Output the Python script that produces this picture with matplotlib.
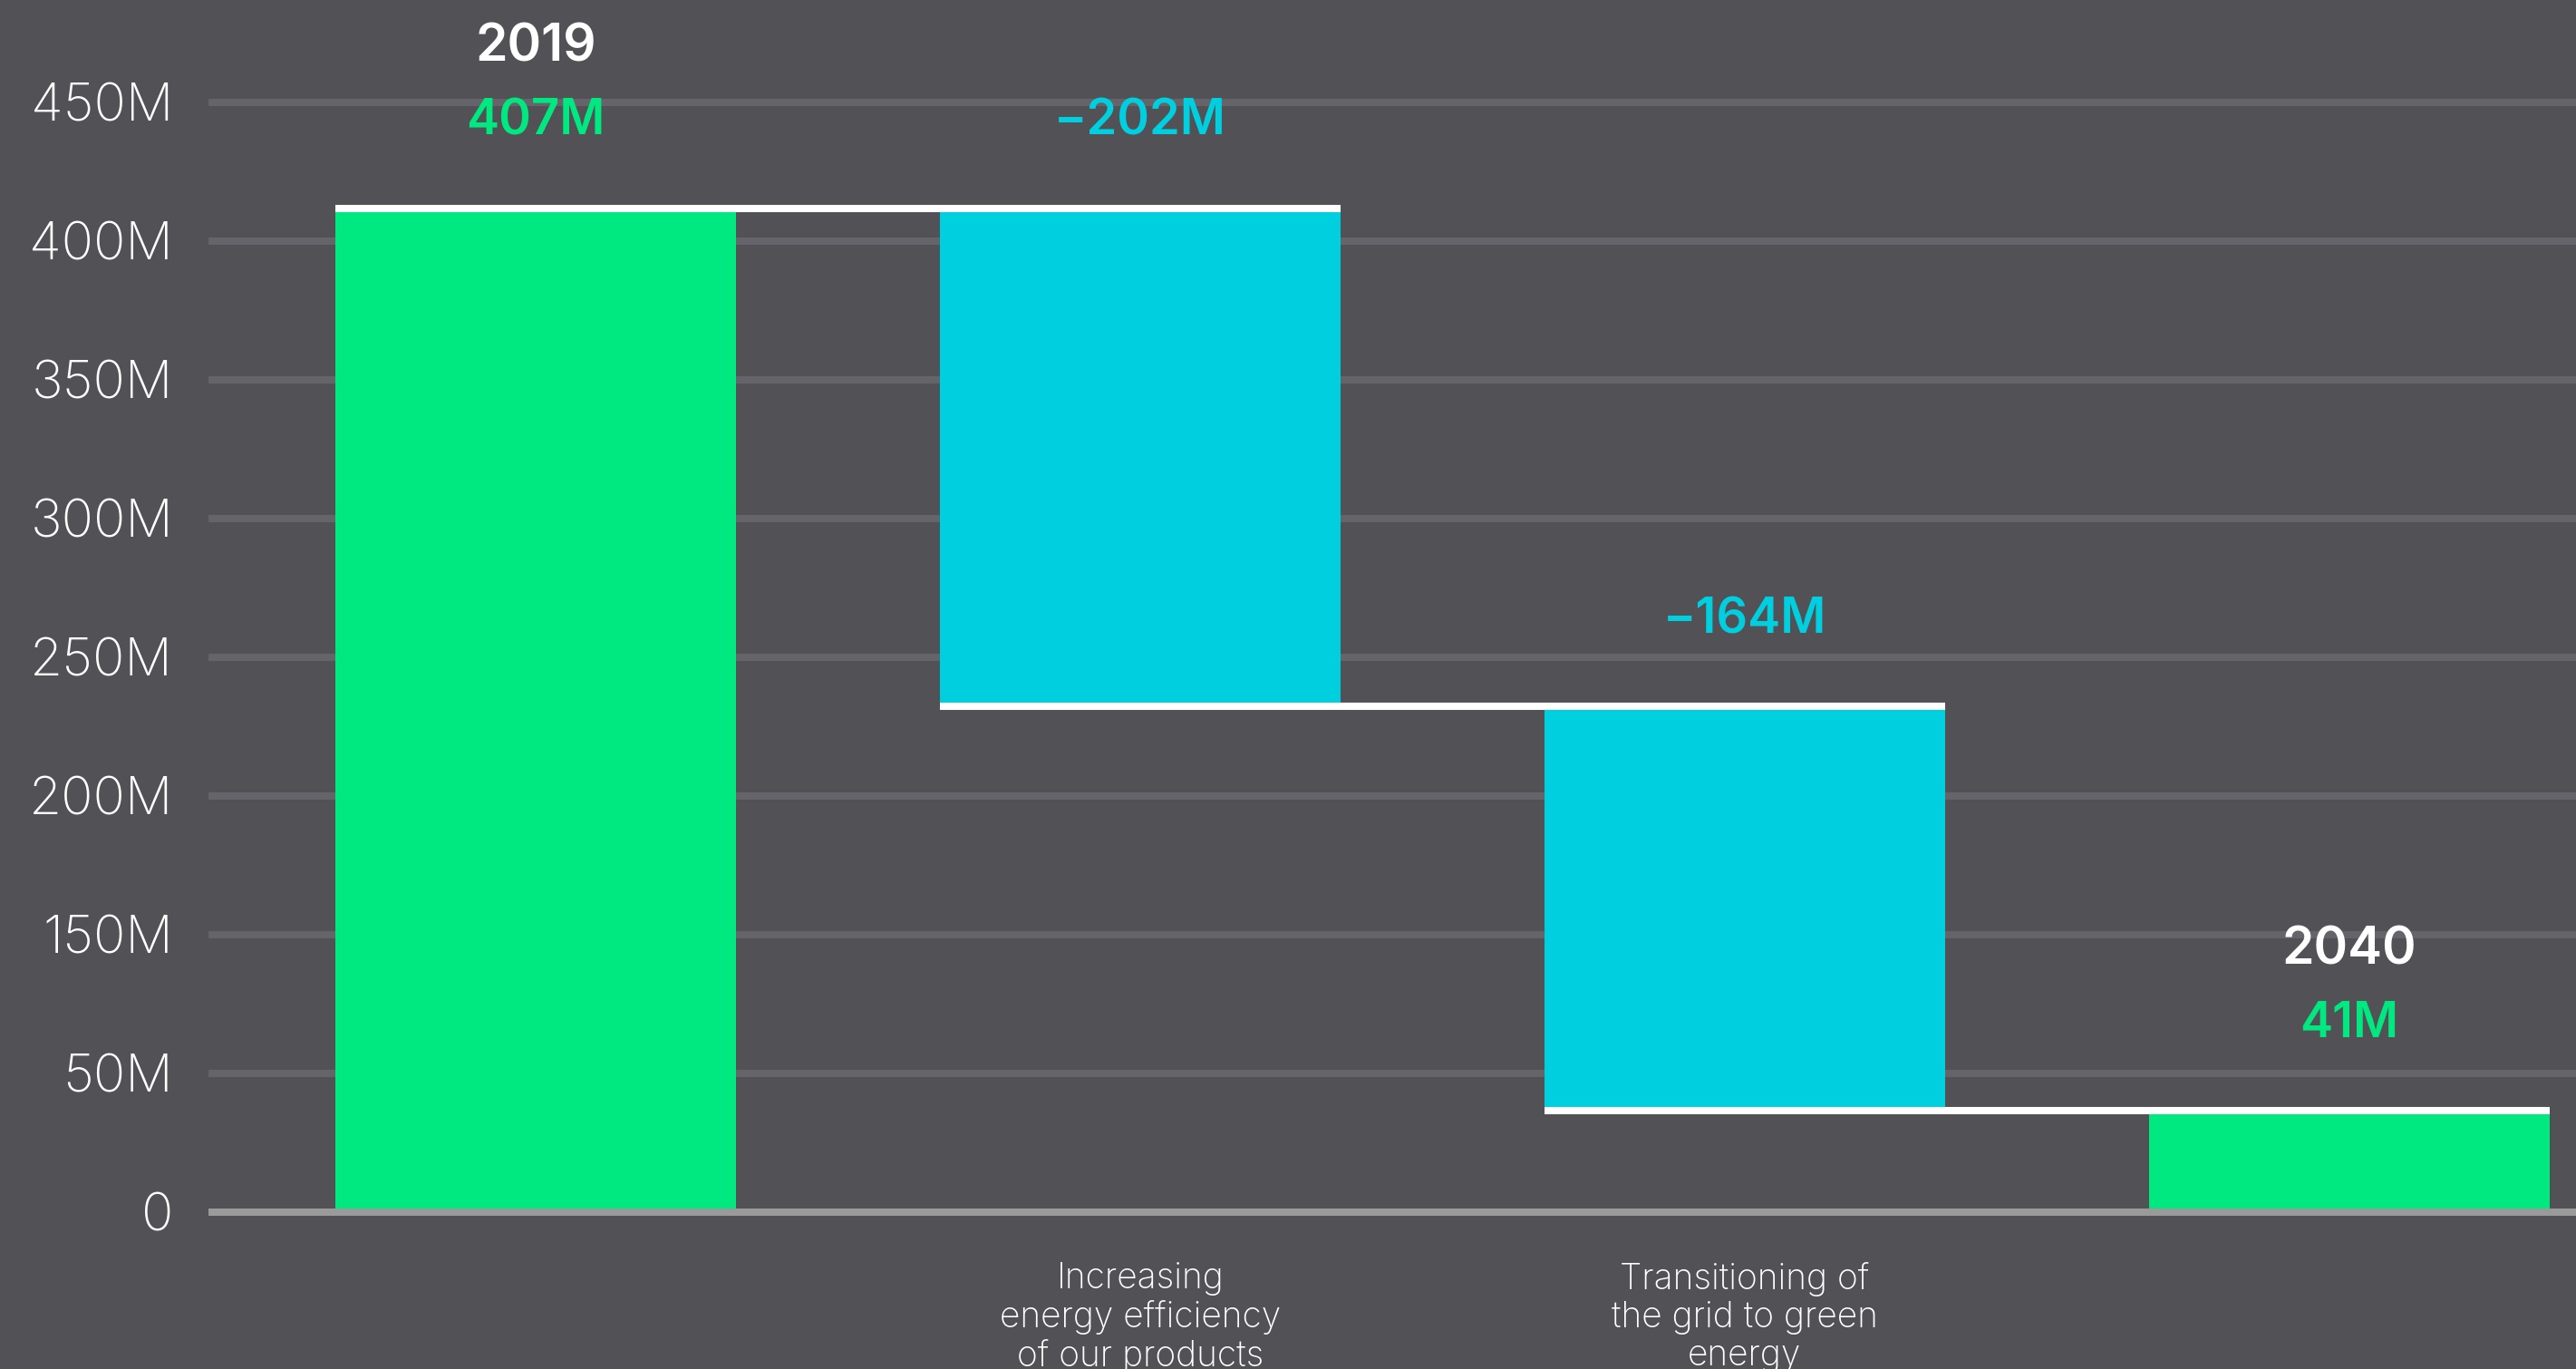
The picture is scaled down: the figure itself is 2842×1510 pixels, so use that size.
import matplotlib
matplotlib.use("Agg")
import matplotlib.pyplot as plt
import numpy as np

# data (millions)
steps = ["2019", "Increasing\nenergy efficiency\nof our products",
         "Transitioning of\nthe grid to green\nenergy", "2040"]
values = [407, -202, -164, 41]
is_total = [True, False, False, True]
value_labels = ["407M", "\u2212202M", "\u2212164M", "41M"]
year_labels = ["2019", "", "", "2040"]
ytick_labels = ["0", "50M", "150M", "200M", "250M", "300M", "350M", "400M", "450M"]
ytick_top = 450

bg = "#515156"
grid_c = "#65646a"
axis_c = "#9a9a9a"
green = "#00e880"
cyan = "#00cfe0"

plt.rcParams["font.family"] = ["Inter", "DejaVu Sans"]

fig = plt.figure(figsize=(28.42, 15.10), dpi=100)
fig.patch.set_facecolor(bg)
ax = fig.add_axes([230 / 2842, 0, 1 - 230 / 2842, 1])
ax.set_facecolor(bg)

# waterfall bottoms / tops
bottoms, heights, tops = [], [], []
running = 0
for v, tot in zip(values, is_total):
    if tot:
        b, h = 0, v
        running = v
    else:
        new = running + v
        b, h = min(running, new), abs(v)
        running = new
    bottoms.append(b)
    heights.append(h)
    tops.append(b + h)

x = np.arange(len(values))
w = 0.663
colors = [green if t else cyan for t in is_total]
ax.bar(x, heights, bottom=bottoms, width=w, color=colors, zorder=3)

# white connector lines: from bar i left edge to bar i+1 right edge
level = 0
for i in range(len(values) - 1):
    level = values[i] if is_total[i] else level + values[i]
    ax.plot([x[i] - w / 2, x[i + 1] + w / 2], [level, level], color="white",
            lw=5.8, solid_capstyle="butt", zorder=4)

# y axis / grid
ax.set_ylim(-63.6, 491.5)
ax.set_xlim(-0.541, 3.375)
ax.set_yticks(np.linspace(0, ytick_top, len(ytick_labels)), ytick_labels)
ax.set_xticks([])
ax.tick_params(axis="y", length=0, pad=28, labelsize=42, labelcolor="white")
for lab in ax.get_yticklabels():
    lab.set_fontweight("light")
ax.yaxis.grid(True, color=grid_c, lw=5.8, zorder=0)
ax.set_axisbelow(True)
for s in ax.spines.values():
    s.set_visible(False)
ax.axhline(0, color=axis_c, lw=5.8, zorder=5)

# labels above bars
for i in range(len(values)):
    c = green if is_total[i] else cyan
    ax.annotate(value_labels[i], (x[i], tops[i]), xytext=(0, 81),
                textcoords="offset pixels", ha="center", va="baseline",
                fontsize=39, fontweight="semibold", color=c, zorder=6)
    if year_labels[i]:
        ax.annotate(year_labels[i], (x[i], tops[i]), xytext=(0, 162),
                    textcoords="offset pixels", ha="center", va="baseline",
                    fontsize=41, fontweight="semibold", color="white", zorder=6)
    if not is_total[i]:
        ax.annotate(steps[i], (x[i], 0), xytext=(0, -55),
                    textcoords="offset pixels", ha="center", va="top",
                    fontsize=28, fontweight="light", color="white",
                    linespacing=1.17, annotation_clip=False)

fig.savefig("out.png", dpi=100, facecolor=bg)
